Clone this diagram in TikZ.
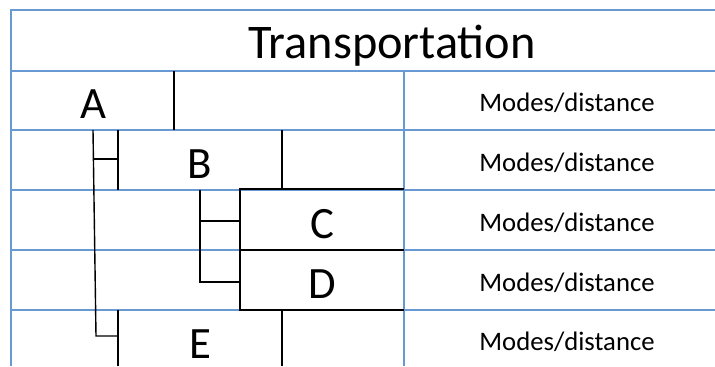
\documentclass[tikz,border=0pt]{standalone}
\usepackage{fontspec}
\setmainfont{Carlito}
\definecolor{gridblue}{RGB}{104,153,210}
\begin{document}
\begin{tikzpicture}[x=1bp,y=-1bp,
  gridline/.style={draw=gridblue,line width=1.7bp},
  blk/.style={draw=black,line width=1.4bp},
  letter/.style={font=\fontsize{45}{50}\selectfont,inner sep=0pt,anchor=base},
  title/.style={font=\fontsize{48.5}{52}\selectfont,inner sep=0pt,anchor=base},
  modes/.style={font=\fontsize{26.8}{30}\selectfont,inner sep=0pt,anchor=base}]
\useasboundingbox (0,0) rectangle (715,366);
% blue grid
\draw[gridline] (715,10) -- (11,10) -- (11,366);
\foreach \y in {71,130,190,250,310} \draw[gridline] (11,\y) -- (715,\y);
\draw[gridline] (404,71) -- (404,366);
% texts
\node[title] (title) at (392,58) {Transportation};
\node[letter] (A) at (93,118) {A};
\node[letter] (B) at (200,178) {B};
\node[letter] (C) at (322,238) {C};
\node[letter] (D) at (322,298) {D};
\node[letter] (E) at (200,358) {E};
\node[modes] (m1) at (567,111) {Modes/distance};
\node[modes] (m2) at (567,171) {Modes/distance};
\node[modes] (m3) at (567,231) {Modes/distance};
\node[modes] (m4) at (567,291) {Modes/distance};
\node[modes] (m5) at (567,350) {Modes/distance};
% coordinates for black lines
\coordinate (a1) at (174,71);  \coordinate (a2) at (174,130);
\coordinate (b1) at (118,130); \coordinate (b2) at (118,190);
\coordinate (b3) at (282,130); \coordinate (b4) at (282,190);
\coordinate (e1) at (118,310); \coordinate (e2) at (118,366);
\coordinate (e3) at (282,310); \coordinate (e4) at (282,366);
\coordinate (p1) at (93,130);  \coordinate (p2) at (96,336);
\coordinate (p3) at (118,336);
\coordinate (q1) at (94,159);  \coordinate (q2) at (118,159);
\coordinate (r1) at (200,190); \coordinate (r2) at (200,282);
\coordinate (r3) at (240,282);
\coordinate (s1) at (200,221); \coordinate (s2) at (240,221);
\coordinate (c1) at (240,189); \coordinate (c2) at (404,189);
\coordinate (c3) at (240,250); \coordinate (c4) at (404,250);
\coordinate (c5) at (240,310); \coordinate (c6) at (404,310);
% black lines
\draw[blk] (a1) -- (a2);
\draw[blk] (b1) -- (b2);
\draw[blk] (b3) -- (b4);
\draw[blk] (e1) -- (e2);
\draw[blk] (e3) -- (e4);
\draw[blk] (p1) -- (p2) -- (p3);
\draw[blk] (q1) -- (q2);
\draw[blk] (r1) -- (r2) -- (r3);
\draw[blk] (s1) -- (s2);
\draw[blk] (c2) -- (c1) -- (c5) -- (c6);
\draw[blk] (c3) -- (c4);
\end{tikzpicture}
\end{document}
